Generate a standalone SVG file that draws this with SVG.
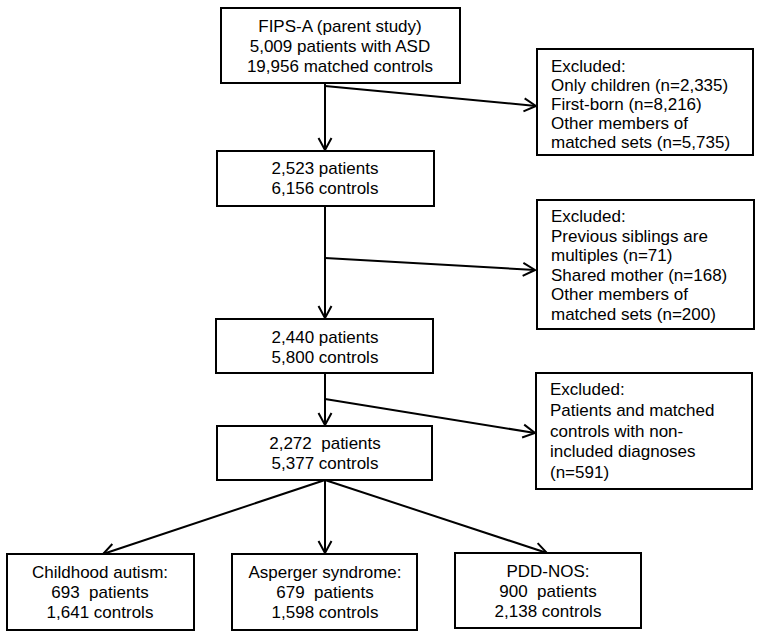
<svg xmlns="http://www.w3.org/2000/svg" width="762" height="638" viewBox="0 0 762 638">
<style>
.box{fill:#fff;stroke:#000;stroke-width:2}
text{font-family:"Liberation Sans",Arial,sans-serif;font-size:17px;fill:#000}
.c{text-anchor:middle}
.conn line{stroke:#000;stroke-width:2;marker-end:url(#arr)}
</style>
<defs>
<marker id="arr" viewBox="-14 -8 15 16" markerWidth="15" markerHeight="16" refX="0" refY="0" orient="auto" markerUnits="userSpaceOnUse">
<path d="M-12,-6.5 L0,0 L-12,6.5" fill="none" stroke="#000" stroke-width="2"/>
</marker>
</defs>
<rect width="762" height="638" fill="#fff"/>
<g id="connectors" class="conn">
<line x1="325" y1="83" x2="325" y2="150"/>
<line x1="325" y1="86" x2="536" y2="106"/>
<line x1="325" y1="206" x2="325" y2="318"/>
<line x1="325" y1="258" x2="535" y2="270"/>
<line x1="325" y1="373" x2="325" y2="425"/>
<line x1="325" y1="399" x2="535" y2="433"/>
<line x1="325" y1="480" x2="103" y2="554"/>
<line x1="325" y1="480" x2="325" y2="553"/>
<line x1="325" y1="480" x2="547" y2="553"/>
</g>
<g id="n1">
<rect class="box" x="221" y="8" width="239" height="75"/>
<text class="c" x="340" y="32">FIPS-A (parent study)</text>
<text class="c" x="340" y="52">5,009 patients with ASD</text>
<text class="c" x="340" y="72">19,956 matched controls</text>
</g>
<g id="ex1">
<rect class="box" x="537" y="49" width="216" height="106"/>
<text x="551" y="72">Excluded:</text>
<text x="551" y="91">Only children (n=2,335)</text>
<text x="551" y="110">First-born (n=8,216)</text>
<text x="551" y="129">Other members of</text>
<text x="551" y="148">matched sets (n=5,735)</text>
</g>
<g id="n2">
<rect class="box" x="217" y="151" width="217" height="55"/>
<text class="c" x="325" y="174">2,523 patients</text>
<text class="c" x="325" y="194">6,156 controls</text>
</g>
<g id="ex2">
<rect class="box" x="537" y="200" width="217" height="129"/>
<text x="551" y="222">Excluded:</text>
<text x="551" y="242">Previous siblings are</text>
<text x="551" y="261">multiples (n=71)</text>
<text x="551" y="281">Shared mother (n=168)</text>
<text x="551" y="300">Other members of</text>
<text x="551" y="320">matched sets (n=200)</text>
</g>
<g id="n3">
<rect class="box" x="216" y="319" width="217" height="54"/>
<text class="c" x="325" y="343">2,440 patients</text>
<text class="c" x="325" y="363">5,800 controls</text>
</g>
<g id="ex3">
<rect class="box" x="536" y="373" width="216" height="116"/>
<text x="550" y="395">Excluded:</text>
<text x="550" y="416">Patients and matched</text>
<text x="550" y="437">controls with non-</text>
<text x="550" y="457">included diagnoses</text>
<text x="550" y="478">(n=591)</text>
</g>
<g id="n4">
<rect class="box" x="217" y="426" width="215" height="54"/>
<text class="c" x="325" y="449" xml:space="preserve">2,272  patients</text>
<text class="c" x="325" y="469">5,377 controls</text>
</g>
<g id="n5">
<rect class="box" x="7" y="554" width="187" height="76"/>
<text class="c" x="100" y="578">Childhood autism:</text>
<text class="c" x="100" y="598" xml:space="preserve">693  patients</text>
<text class="c" x="100" y="618">1,641 controls</text>
</g>
<g id="n6">
<rect class="box" x="232" y="554" width="185" height="76"/>
<text class="c" x="325" y="578">Asperger syndrome:</text>
<text class="c" x="325" y="598" xml:space="preserve">679  patients</text>
<text class="c" x="325" y="618">1,598 controls</text>
</g>
<g id="n7">
<rect class="box" x="455" y="553" width="186" height="75"/>
<text class="c" x="548" y="577">PDD-NOS:</text>
<text class="c" x="548" y="597" xml:space="preserve">900  patients</text>
<text class="c" x="548" y="617">2,138 controls</text>
</g>
</svg>
